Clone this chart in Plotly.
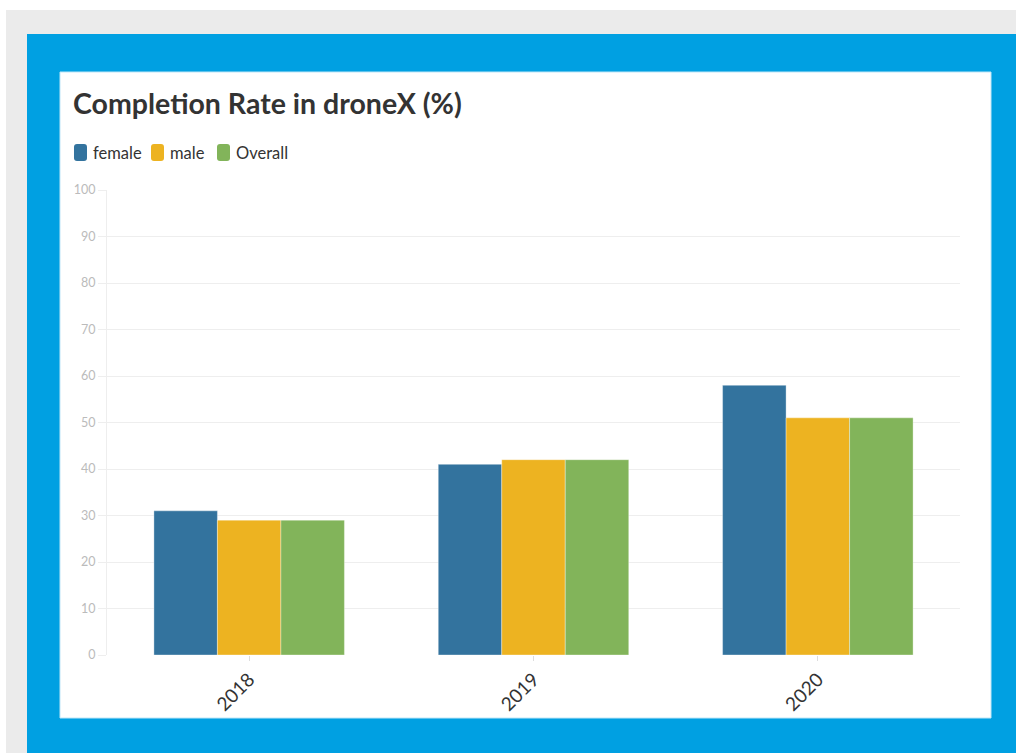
import plotly.graph_objects as go

# Chart data
years = ["2018", "2019", "2020"]
female = [31, 41, 58]
male = [29, 42, 51]
overall = [29, 42, 51]

series_names = ["female", "male", "Overall"]
series_colors = ["#33739e", "#edb321", "#82b45a"]

W, H = 1016, 753
L, R, T, B = 107, 960, 190, 655  # plot area in pixels
FONT = "Lato, 'Open Sans', sans-serif"


def px_x(px):
    return (px - L) / (R - L)


def px_y(py):
    return (B - py) / (B - T)


def rounded_box(x0, y0, x1, y1, r):
    """SVG path (paper coords) for a rounded rectangle given in pixels."""
    pts = [
        ("M", x0 + r, y0), ("L", x1 - r, y0), ("Q", x1, y0, x1, y0 + r),
        ("L", x1, y1 - r), ("Q", x1, y1, x1 - r, y1), ("L", x0 + r, y1),
        ("Q", x0, y1, x0, y1 - r), ("L", x0, y0 + r), ("Q", x0, y0, x0 + r, y0),
    ]
    out = []
    for p in pts:
        cmd, coords = p[0], p[1:]
        conv = []
        for i in range(0, len(coords), 2):
            conv.append(f"{px_x(coords[i]):.5f},{px_y(coords[i + 1]):.5f}")
        out.append(cmd + " ".join(conv))
    return " ".join(out) + " Z"


fig = go.Figure()
for name, vals, col in zip(series_names, [female, male, overall], series_colors):
    fig.add_trace(go.Bar(
        x=years, y=vals, name=name, showlegend=False,
        marker=dict(color=col, line=dict(color="rgba(255,255,255,0.35)", width=1)),
    ))

# Page frame: grey backdrop, blue border, white card
shapes = [
    dict(type="rect", xref="paper", yref="paper", layer="below",
         x0=px_x(6), x1=px_x(W + 5), y0=px_y(H + 5), y1=px_y(10),
         fillcolor="#ebebeb", line=dict(width=0)),
    dict(type="rect", xref="paper", yref="paper", layer="below",
         x0=px_x(27), x1=px_x(W + 5), y0=px_y(H + 5), y1=px_y(34),
         fillcolor="#00a0e2", line=dict(width=0)),
    dict(type="rect", xref="paper", yref="paper", layer="below",
         x0=px_x(60), x1=px_x(991), y0=px_y(718), y1=px_y(72),
         fillcolor="#ffffff", line=dict(color="#bfe6f7", width=1)),
]

# Legend: rounded swatches followed by labels
legend_swatch_x = [74, 151, 217]
annotations = []
for name, col, sx in zip(series_names, series_colors, legend_swatch_x):
    shapes.append(dict(type="path", xref="paper", yref="paper",
                       path=rounded_box(sx, 144, sx + 13, 161, 3),
                       fillcolor=col, line=dict(width=0)))
    annotations.append(dict(text=name, xref="paper", yref="paper",
                            x=px_x(sx + 17), y=px_y(152.5),
                            xanchor="left", yanchor="middle", showarrow=False,
                            font=dict(size=16.5, color="#333333", family=FONT)))

fig.update_layout(
    width=W, height=H,
    margin=dict(l=L, r=W - R, t=T, b=H - B, autoexpand=False),
    paper_bgcolor="#ffffff",
    plot_bgcolor="rgba(0,0,0,0)",
    font=dict(family=FONT, color="#333333"),
    shapes=shapes,
    annotations=annotations,
    showlegend=False,
    barmode="group",
    bargap=0.33,
    bargroupgap=0,
    title=dict(
        text="<b>Completion Rate in droneX (%)</b>",
        font=dict(size=28.5, color="#333333"),
        x=73 / W, xref="container", xanchor="left",
        y=1 - 104 / H, yref="container", yanchor="middle",
    ),
    xaxis=dict(
        tickangle=-45,
        tickfont=dict(size=19, color="#333333"),
        ticks="outside", ticklen=5, tickcolor="#dddddd",
        showline=False, showgrid=False, zeroline=False,
    ),
    yaxis=dict(
        range=[0, 100], dtick=10,
        tickfont=dict(size=12.5, color="#bbbbbb"),
        ticks="outside", ticklen=8, tickcolor="#eeeeee",
        showgrid=True, gridcolor="#eeeeee", gridwidth=1,
        showline=True, linecolor="#eeeeee", linewidth=1,
        zeroline=False,
    ),
)

fig.write_html("out.html")
